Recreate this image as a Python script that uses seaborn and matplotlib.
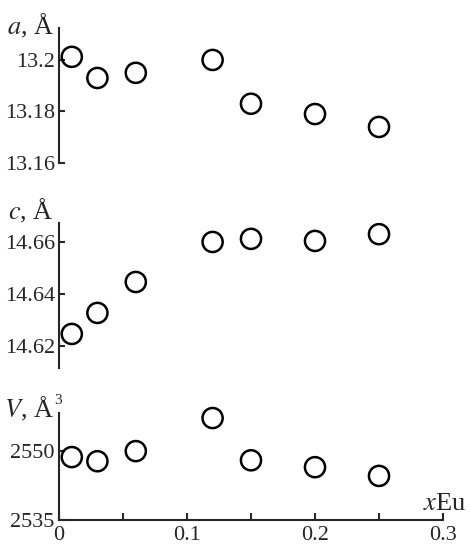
import matplotlib
matplotlib.use("Agg")
import matplotlib.pyplot as plt
import seaborn as sns
import pandas as pd

# Eu content and lattice parameters
x_eu = [0.01, 0.03, 0.06, 0.12, 0.15, 0.20, 0.25]
a_vals = [13.2012, 13.193, 13.195, 13.200, 13.183, 13.179, 13.174]
c_vals = [14.6246, 14.6327, 14.6446, 14.6600, 14.6612, 14.6604, 14.6630]
v_vals = [2548.7, 2547.8, 2550.0, 2557.2, 2548.0, 2546.5, 2544.6]

x_ticks = [0, 0.05, 0.1, 0.15, 0.2, 0.25, 0.3]
x_ticklabels = ["0", "", "0.1", "", "0.2", "", "0.3"]

a_ticks = [13.16, 13.18, 13.2]
a_ticklabels = ["13.16", "13.18", "13.2"]
c_ticks = [14.62, 14.64, 14.66]
c_ticklabels = ["14.62", "14.64", "14.66"]
v_ticks = [2535, 2550]
v_ticklabels = ["2535", "2550"]

df = pd.DataFrame({"x": x_eu, "a": a_vals, "c": c_vals, "V": v_vals})

sns.set_style("ticks")
plt.rcParams["font.family"] = ["Liberation Serif", "DejaVu Serif"]
plt.rcParams["mathtext.fontset"] = "stix"

W, H = 470, 550
fig = plt.figure(figsize=(W / 100, H / 100), dpi=100)


def px_axes(top, bottom, left=59, right=443):
    return fig.add_axes([left / W, 1 - bottom / H, (right - left) / W, (bottom - top) / H])


panels = [
    ("a", (28, 163), (13.16, 13.2124), a_ticks, a_ticklabels, "$a$, Å", 34),
    ("c", (223, 368), (14.6115, 14.6673), c_ticks, c_ticklabels, "$c$, Å", 219),
    ("V", (413, 520), (2535, 2558.3), v_ticks, v_ticklabels, "$V$, Å", 417),
]

for i, (col, (top, bottom), ylim, yt, ytl, label, label_y) in enumerate(panels):
    ax = px_axes(top, bottom)
    sns.scatterplot(data=df, x="x", y=col, ax=ax, s=210, marker="o",
                    facecolor="none", edgecolor="black", linewidth=1.8,
                    clip_on=False, zorder=3)
    ax.set_xlim(0, 0.3)
    ax.set_ylim(*ylim)
    ax.set_yticks(yt)
    ax.set_yticklabels(ytl)
    ax.set_xlabel("")
    ax.set_ylabel("")
    ax.tick_params(axis="y", direction="in", length=4, width=1.5, pad=3, labelsize=16)
    ax.spines["left"].set_linewidth(1.5)
    for s in ["top", "right"]:
        ax.spines[s].set_visible(False)
    if i < 2:
        ax.spines["bottom"].set_visible(False)
        ax.set_xticks([])
    else:
        ax.spines["bottom"].set_linewidth(1.5)
        ax.set_xticks(x_ticks)
        ax.set_xticklabels(x_ticklabels)
        ax.tick_params(axis="x", direction="in", length=5, width=1.5, pad=4, labelsize=16)
        fig.text(466 / W, 1 - 510 / H, "$x$Eu", ha="right", va="baseline", fontsize=19)
        fig.text(54 / W, 1 - 404 / H, "3", ha="left", va="baseline", fontsize=11)
    fig.text(54 / W, 1 - label_y / H, label, ha="right", va="baseline", fontsize=19)

fig.savefig("out.png", dpi=100)
